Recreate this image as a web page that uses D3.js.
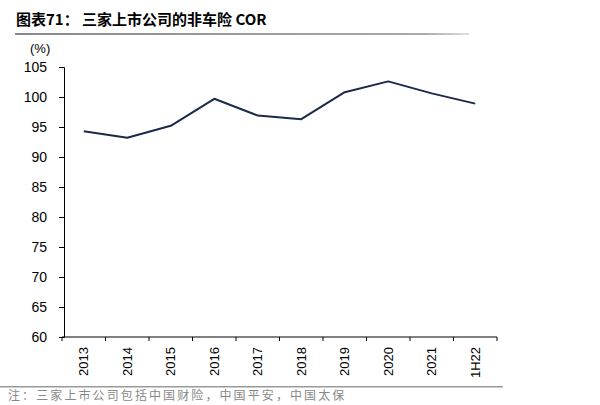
<!DOCTYPE html>
<html><head><meta charset="utf-8">
<script src="https://cdn.jsdelivr.net/npm/d3@7"></script>
<style>body{margin:0;background:#fff;}svg{display:block;}</style>
</head><body>
<svg id="c" width="600" height="405"></svg>
<script>
const categories = ["2013","2014","2015","2016","2017","2018","2019","2020","2021","1H22"];
const corValues = [94.3, 93.2, 95.2, 99.7, 96.9, 96.3, 100.8, 102.6, 100.6, 98.9];
const yTicks = [60,65,70,75,80,85,90,95,100,105];

const svg = d3.select("#c");
const font = "Arial, 'Liberation Sans', sans-serif";

// title
svg.append("text").attr("x",16).attr("y",25)
  .attr("font-family","'Noto Sans CJK SC', sans-serif").attr("font-weight","bold")
  .attr("font-size",15).attr("fill","#000").text("图表71：  三家上市公司的非车险 COR");
const g0 = svg.append("defs").append("linearGradient").attr("id","tl");
g0.append("stop").attr("offset","0").attr("stop-color","#888");
g0.append("stop").attr("offset","0.9").attr("stop-color","#aaa");
g0.append("stop").attr("offset","1").attr("stop-color","#ddd");
svg.append("rect").attr("x",15).attr("y",33).attr("width",454).attr("height",2).attr("fill","url(#tl)");

svg.append("text").attr("x",30).attr("y",53).attr("font-family",font).attr("font-size",13)
  .attr("fill","#000").text("(%)");

const x = d3.scaleBand().domain(categories).range([62,497]);
const y = d3.scaleLinear().domain([60,105]).range([337,67]);

const yAxis = svg.append("g").attr("transform","translate(64,0)")
  .call(d3.axisLeft(y).tickValues(yTicks).tickSize(5).tickPadding(12));
yAxis.select(".domain").attr("stroke","#000");
yAxis.selectAll("text").attr("font-family",font).attr("font-size",14).attr("fill","#000");

const xAxis = svg.append("g").attr("transform","translate(0,337)")
  .call(d3.axisBottom(x).tickSize(0).tickPadding(0));
xAxis.select(".domain").attr("d","M62,0H497").attr("stroke","#000");
xAxis.selectAll(".tick line").remove();
// boundary ticks
const bounds = categories.map(c=>x(c)).concat([x(categories[categories.length-1])+x.bandwidth()]);
xAxis.selectAll("line.b").data(bounds).enter().append("line")
  .attr("x1",d=>d).attr("x2",d=>d).attr("y1",0).attr("y2",4).attr("stroke","#000");
xAxis.selectAll(".tick text")
  .attr("font-family",font).attr("font-size",13).attr("fill","#000")
  .attr("transform","rotate(-90)").attr("text-anchor","end")
  .attr("x",-10).attr("y",0).attr("dy","0.35em");

const line = d3.line().x((d,i)=>x(categories[i])+x.bandwidth()/2).y(d=>y(d));
svg.append("path").datum(corValues).attr("d",line)
  .attr("fill","none").attr("stroke","#1b2a4a").attr("stroke-width",2).attr("stroke-linejoin","round");

// footer
svg.append("rect").attr("x",0).attr("y",386).attr("width",503).attr("height",1.5).attr("fill","#999");
svg.append("text").attr("x",8).attr("y",400)
  .attr("font-family","'Noto Sans CJK SC', sans-serif").attr("font-size",12)
  .attr("letter-spacing",2.1)
  .attr("fill","#888").text("注：三家上市公司包括中国财险，中国平安，中国太保");
</script>
</body></html>
